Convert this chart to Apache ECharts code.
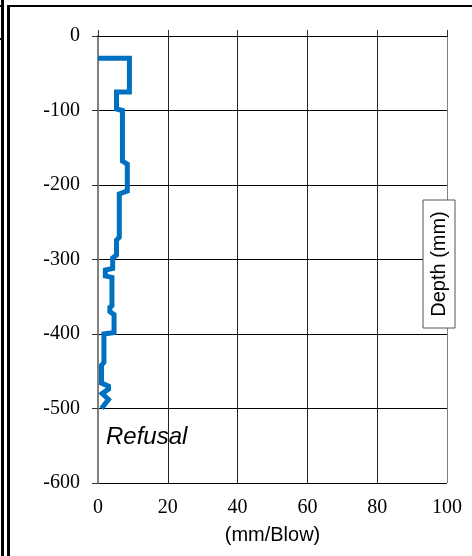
<!DOCTYPE html>
<html>
<head>
<meta charset="utf-8">
<script src="https://cdn.jsdelivr.net/npm/echarts@6/dist/echarts.min.js"></script>
<style>html,body{margin:0;padding:0;background:#fff}#c{width:472px;height:556px}</style>
</head>
<body>
<div id="c"></div>
<script>
// Penetration rate (mm/blow) and depth (mm) – step profile vertices
var rate  = [0,   9,   9,   5.3, 5.3, 7,    7,    8.4,  8.4,  6.1,  6.1,  5.3,  5.3,  4.2,  4.2,  2.1,  2.1,  4,    4,    3.4,  3.4,  4.6,  4.6,  1.7,  1.7,  1,    1,    3,    3,    1.2,  3,    1];
var depth = [-30, -30, -75, -75, -98, -100, -168, -172, -208, -212, -270, -274, -294, -298, -312, -314, -322, -324, -362, -364, -370, -374, -398, -400, -438, -442, -466, -470, -474, -480, -488, -500];
var xTicks = [0, 20, 40, 60, 80, 100];
var yTicks = [0, -100, -200, -300, -400, -500, -600];
var xTitle = '(mm/Blow)';
var yTitle = 'Depth (mm)';
var note = 'Refusal';

var pts = rate.map(function (r, i) { return [r, depth[i]]; });

var chart = echarts.init(document.getElementById('c'), null, {renderer: 'canvas'});
chart.setOption({
  animation: false,
  backgroundColor: '#fff',
  grid: {left: 98, right: 25, top: 36, bottom: 73, containLabel: false},
  xAxis: [{
    type: 'value', position: 'bottom', min: xTicks[0], max: xTicks[xTicks.length - 1], interval: 20,
    axisLine: {show: true, lineStyle: {color: '#000', width: 1}},
    axisTick: {show: false},
    axisLabel: {color: '#000', fontFamily: 'Liberation Serif', fontSize: 20, margin: 15},
    splitLine: {show: true, lineStyle: {color: ['#808080', '#222', '#222', '#222', '#222', '#808080'], width: 1}},
    name: xTitle, nameLocation: 'middle', nameGap: 42,
    nameTextStyle: {color: '#000', fontFamily: 'Liberation Sans', fontSize: 20}
  }, {
    type: 'value', position: 'top', min: 0, max: 100, interval: 20,
    axisLine: {show: true, lineStyle: {color: '#000', width: 1}},
    axisTick: {show: true, length: 6, lineStyle: {color: '#333'}},
    axisLabel: {show: false},
    splitLine: {show: false}
  }],
  yAxis: {
    type: 'value', min: -600, max: 0, interval: 100,
    axisLine: {show: true, lineStyle: {color: '#808080', width: 2}},
    axisTick: {show: true, length: 6, lineStyle: {color: '#333'}},
    axisLabel: {color: '#000', fontFamily: 'Liberation Serif', fontSize: 20, margin: 18},
    splitLine: {show: true, lineStyle: {color: '#000', width: 1}}
  },
  series: [{
    type: 'line', data: pts, showSymbol: false, symbol: 'none',
    lineStyle: {color: '#0070C0', width: 5, join: 'miter'},
    z: 5
  }],
  graphic: [
    {type: 'rect', shape: {x: 1, y: 0, width: 3, height: 556}, style: {fill: '#000'}, z: 100},
    {type: 'rect', shape: {x: 7, y: 5, width: 3, height: 551}, style: {fill: '#000'}, z: 100},
    {type: 'rect', shape: {x: 7, y: 5, width: 465, height: 2}, style: {fill: '#000'}, z: 100},
    {type: 'rect', shape: {x: 0, y: 5, width: 3, height: 2}, style: {fill: '#000'}, z: 100},
    {type: 'rect', shape: {x: 0, y: 38, width: 3, height: 2}, style: {fill: '#000'}, z: 100},
    {type: 'rect', shape: {x: 423, y: 200, width: 32, height: 128}, style: {fill: '#fff', stroke: '#555', lineWidth: 1}, z: 100},
    {type: 'text', x: 439, y: 264, rotation: Math.PI / 2, z: 101,
      style: {text: yTitle, fill: '#000', font: '20px "Liberation Sans"', align: 'center', verticalAlign: 'middle'}},
    {type: 'text', x: 106, y: 437, z: 101,
      style: {text: note, fill: '#000', font: 'italic 24px "Liberation Sans"', align: 'left', verticalAlign: 'middle'}}
  ]
});
</script>
</body>
</html>
